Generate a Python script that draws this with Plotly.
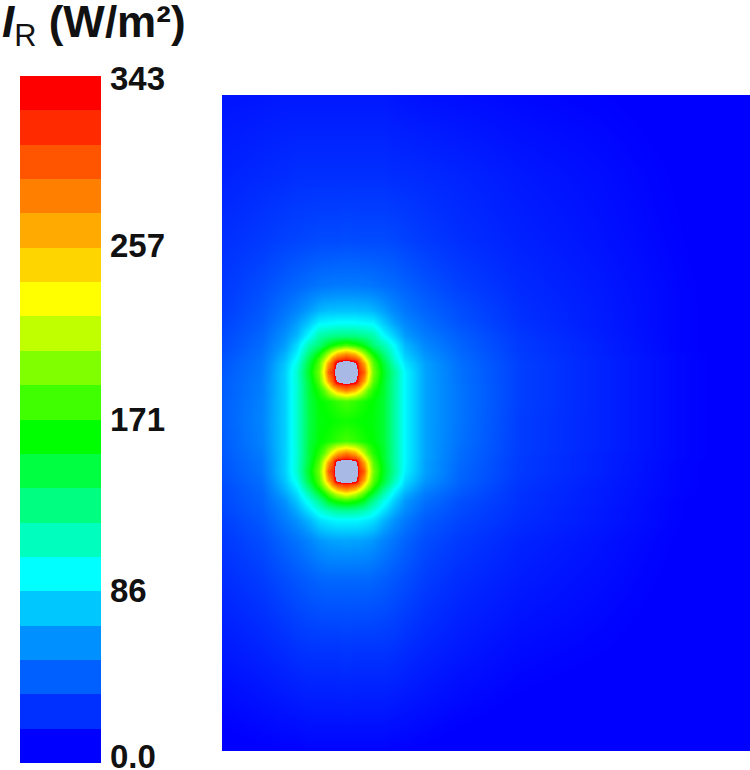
#!/usr/bin/env python3
"""Radiation intensity map around two sources, with a banded scale on the left."""

import plotly.graph_objects as go

WIDTH = 750
HEIGHT = 770
FONT = "Liberation Sans"

# scale bands, bottom to top
band_colors = [
    "#0000FF", "#0030FF", "#0060FF", "#0090FF", "#00C8FF",
    "#00FFFF", "#00FFBF", "#00FF80", "#00FF40", "#00FF00",
    "#40FF00", "#80FF00", "#BFFF00", "#FFFF00", "#FFD500",
    "#FFAA00", "#FF8000", "#FF5500", "#FF2A00", "#FF0000",
]
scale_max = 343
tick_text = ["0.0", "86", "171", "257", "343"]
tick_pos = [3.5, 86.4, 171.3, 258.6, 342]
source_color = "#A9B9E6"

# field, x and y in image pixels; 400 marks the source discs
x_grid = [222, 262, 285, 297, 309, 319, 324, 328, 333, 337, 346, 355, 359,
          364, 368, 373, 383, 394, 405, 425, 460, 520, 600, 680, 750]
y_grid = [95, 175, 240, 285, 310, 323, 336, 345, 350, 354, 359, 363, 372, 381,
          385, 390, 394, 401, 421, 441, 448, 453, 458, 462, 471, 480, 484, 489,
          493, 500, 510, 520, 540, 580, 650, 750]
intensity = [
    [15, 16, 17, 17, 17, 17, 17, 17, 17, 17, 17, 17, 17, 17, 17, 17, 17, 16, 15, 14, 13, 11, 9, 6, 3],
    [20, 23, 24, 25, 25, 25, 25, 25, 25, 25, 25, 25, 25, 25, 25, 25, 25, 24, 24, 23, 21, 17, 13, 8, 4],
    [25, 29, 32, 33, 34, 35, 35, 35, 35, 35, 36, 35, 35, 35, 35, 35, 35, 34, 32, 29, 25, 20, 15, 9, 4],
    [28, 36, 42, 45, 48, 50, 51, 51, 52, 52, 52, 52, 52, 51, 51, 50, 48, 46, 43, 38, 31, 23, 17, 10, 4],
    [30, 40, 50, 56, 64, 71, 73, 74, 74, 75, 75, 75, 74, 74, 73, 71, 65, 57, 51, 44, 36, 25, 18, 10, 5],
    [32, 42, 55, 65, 78, 92, 93, 94, 95, 96, 96, 96, 95, 94, 93, 92, 78, 66, 57, 48, 38, 26, 18, 10, 5],
    [34, 45, 61, 73, 96, 118, 122, 125, 127, 129, 130, 129, 127, 125, 122, 118, 96, 80, 64, 53, 42, 28, 19, 10, 5],
    [35, 47, 65, 84, 116, 132, 145, 155, 165, 172, 182, 172, 165, 155, 145, 132, 116, 94, 72, 57, 44, 29, 20, 10, 5],
    [36, 48, 68, 88, 124, 150, 168, 185, 205, 220, 238, 220, 205, 185, 168, 150, 124, 98, 75, 59, 45, 29, 20, 10, 5],
    [37, 49, 71, 92, 133, 165, 188, 210, 238, 262, 280, 262, 238, 210, 188, 165, 133, 102, 78, 61, 46, 30, 20, 11, 5],
    [38, 50, 74, 97, 142, 180, 210, 238, 285, 303, 318, 303, 285, 238, 210, 180, 142, 106, 82, 63, 47, 30, 21, 11, 5],
    [39, 51, 77, 102, 148, 187, 225, 268, 303, 355, 400, 355, 303, 268, 225, 187, 150, 112, 86, 65, 48, 31, 21, 11, 5],
    [40, 52, 80, 108, 155, 195, 240, 295, 318, 400, 400, 400, 318, 295, 240, 195, 156, 122, 92, 66, 49, 31, 21, 11, 5],
    [41, 53, 80, 108, 150, 187, 225, 268, 303, 355, 400, 355, 303, 268, 225, 187, 154, 120, 92, 66, 49, 31, 21, 11, 5],
    [41, 54, 80, 107, 148, 180, 210, 238, 285, 303, 318, 303, 285, 238, 210, 180, 152, 120, 92, 66, 50, 31, 21, 11, 5],
    [41, 54, 80, 107, 148, 172, 188, 210, 238, 262, 285, 262, 238, 210, 188, 172, 152, 120, 92, 66, 50, 31, 21, 11, 5],
    [41, 54, 80, 107, 148, 168, 180, 195, 212, 225, 240, 225, 212, 195, 180, 168, 152, 120, 92, 66, 50, 31, 21, 11, 5],
    [42, 55, 80, 108, 146, 162, 165, 168, 172, 176, 182, 176, 172, 168, 165, 162, 150, 120, 92, 66, 50, 31, 21, 11, 5],
    [42, 56, 80, 108, 145, 160, 161, 162, 164, 165, 167, 165, 164, 162, 161, 160, 150, 120, 92, 66, 50, 30, 21, 11, 5],
    [41, 55, 80, 108, 146, 162, 165, 168, 172, 176, 182, 176, 172, 168, 165, 162, 150, 120, 92, 66, 49, 30, 21, 11, 5],
    [41, 54, 80, 107, 148, 168, 180, 195, 212, 225, 238, 225, 212, 195, 180, 168, 152, 120, 92, 66, 48, 30, 21, 11, 5],
    [40, 53, 80, 107, 148, 172, 190, 212, 240, 265, 285, 265, 240, 212, 190, 172, 152, 120, 92, 66, 47, 30, 20, 11, 5],
    [40, 52, 80, 107, 148, 180, 210, 238, 285, 303, 318, 303, 285, 238, 210, 180, 152, 120, 92, 66, 47, 29, 20, 11, 5],
    [39, 51, 80, 108, 150, 187, 225, 268, 303, 375, 400, 375, 303, 268, 225, 187, 154, 120, 92, 65, 46, 29, 20, 10, 5],
    [38, 50, 80, 108, 155, 195, 240, 295, 318, 400, 400, 400, 318, 295, 240, 195, 156, 122, 90, 65, 45, 29, 20, 10, 5],
    [37, 48, 77, 102, 148, 187, 225, 268, 303, 375, 400, 375, 303, 268, 225, 187, 150, 114, 84, 62, 44, 28, 19, 10, 5],
    [36, 47, 74, 96, 140, 180, 210, 238, 285, 303, 318, 303, 285, 238, 210, 180, 142, 107, 80, 59, 43, 27, 19, 10, 5],
    [35, 46, 71, 90, 128, 165, 188, 210, 238, 262, 280, 262, 238, 210, 188, 165, 128, 96, 75, 56, 41, 27, 18, 10, 4],
    [35, 45, 68, 85, 118, 150, 168, 185, 205, 220, 238, 220, 205, 185, 168, 150, 118, 90, 70, 53, 40, 26, 18, 10, 4],
    [34, 44, 62, 78, 102, 126, 140, 155, 165, 172, 180, 172, 165, 155, 140, 126, 102, 80, 63, 49, 37, 26, 18, 9, 4],
    [33, 42, 57, 69, 86, 103, 110, 115, 119, 122, 124, 122, 119, 115, 110, 103, 86, 70, 58, 45, 35, 25, 17, 9, 4],
    [31, 40, 53, 61, 72, 84, 87, 89, 91, 92, 92, 92, 91, 89, 87, 84, 72, 61, 52, 41, 33, 24, 17, 9, 4],
    [28, 36, 45, 50, 56, 62, 64, 65, 66, 66, 67, 66, 66, 65, 64, 62, 56, 50, 44, 36, 29, 21, 15, 8, 3],
    [24, 30, 36, 39, 42, 44, 45, 45, 45, 45, 45, 45, 45, 45, 45, 44, 42, 39, 36, 30, 24, 18, 13, 7, 3],
    [17, 21, 24, 26, 27, 27, 27, 27, 27, 27, 28, 27, 27, 27, 27, 27, 27, 26, 24, 21, 17, 12, 9, 5, 2],
    [6, 8, 9, 9, 10, 10, 10, 10, 10, 10, 10, 10, 10, 10, 10, 10, 10, 9, 9, 8, 6, 4, 2, 1, 1],
]

# shared colour scale: band colours at band centres, then the source colour above the top
z_top = 400
band_step = scale_max / len(band_colors)
band_mid = [(i + 0.5) * band_step for i in range(len(band_colors))]
band_edges = [i * band_step for i in range(len(band_colors) + 1)]

colorscale = [[0, band_colors[0]]]
colorscale += [[v / z_top, c] for v, c in zip(band_mid, band_colors)]
colorscale += [[346 / z_top, band_colors[-1]], [347 / z_top, source_color], [1, source_color]]


def px_to_domain_y(top, bottom):
    return [1 - bottom / HEIGHT, 1 - top / HEIGHT]


fig = go.Figure()

fig.add_trace(go.Heatmap(
    x=x_grid, y=y_grid, z=intensity,
    zmin=0, zmax=z_top, colorscale=colorscale,
    zsmooth="best", showscale=False,
    hovertemplate="%{z}<extra></extra>",
))

fig.add_trace(go.Heatmap(
    x=[0, 1], y=band_edges, z=[[v] for v in band_mid],
    zmin=0, zmax=z_top, colorscale=colorscale,
    showscale=False, xaxis="x2", yaxis="y2",
    hovertemplate="%{z:.0f}<extra></extra>",
))

fig.update_layout(
    width=WIDTH, height=HEIGHT,
    margin=dict(l=0, r=0, t=0, b=0),
    paper_bgcolor="white", plot_bgcolor="white",
    font=dict(family=FONT, color="#111111"),
    xaxis=dict(domain=[222 / WIDTH, 1], range=[222, 750], visible=False, automargin=False),
    yaxis=dict(domain=px_to_domain_y(95, 751), range=[751, 95], visible=False, automargin=False),
    xaxis2=dict(domain=[20 / WIDTH, 101 / WIDTH], range=[0, 1], visible=False,
                anchor="y2", automargin=False),
    yaxis2=dict(
        domain=px_to_domain_y(76, 763), range=[0, scale_max], anchor="x2", side="right",
        tickmode="array", tickvals=tick_pos, ticktext=tick_text,
        tickfont=dict(family=FONT, size=33, color="#111111", weight="bold"),
        ticks="", ticklabelstandoff=8, ticklabeloverflow="allow",
        showgrid=False, zeroline=False, showline=False, automargin=False,
    ),
    annotations=[dict(
        text="<b><i>I</i></b><sub>R</sub><b> (W/m²)</b>",
        xref="paper", yref="paper", x=0, y=1, yshift=5,
        xanchor="left", yanchor="top", showarrow=False,
        font=dict(family=FONT, size=44, color="#111111"),
    )],
)

# the page's default body margin would shift the picture
fig.write_html("out.html", config={"displayModeBar": False},
               post_script="document.body.style.margin = '0';")
